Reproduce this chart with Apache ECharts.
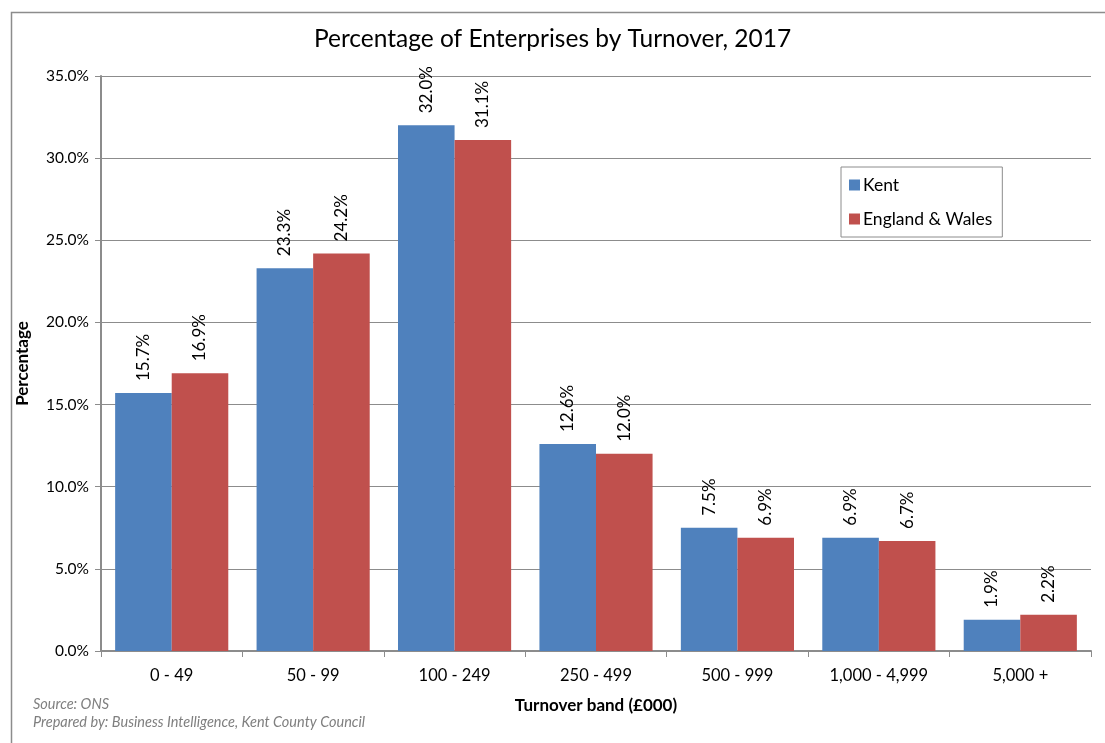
<!DOCTYPE html>
<html>
<head>
<meta charset="utf-8">
<script src="https://cdn.jsdelivr.net/npm/echarts@6/dist/echarts.min.js"></script>
<style>
  html, body { margin: 0; padding: 0; background: #fff; }
  #chart { width: 1105px; height: 743px; }
</style>
</head>
<body>
<div id="chart"></div>
<script>
  // turnover bands (£000)
  var bands = ['0 - 49', '50 - 99', '100 - 249', '250 - 499', '500 - 999', '1,000 - 4,999', '5,000 +']
  var kent = [15.7, 23.3, 32.0, 12.6, 7.5, 6.9, 1.9]
  var englandWales = [16.9, 24.2, 31.1, 12.0, 6.9, 6.7, 2.2]
  var yTicks = [0, 5, 10, 15, 20, 25, 30, 35]

  var font = 'Lato, "Open Sans", sans-serif'

  var chart = echarts.init(document.getElementById('chart'))

  var barLabel = {
    show: true,
    position: 'top',
    rotate: 90,
    align: 'left',
    verticalAlign: 'middle',
    distance: 12,
    color: '#000',
    fontFamily: font,
    fontSize: 17,
    formatter: function (p) { return p.value.toFixed(1) + '%' }
  }

  var option = {
    backgroundColor: '#fff',
    animation: false,
    title: {
      text: 'Percentage of Enterprises by Turnover, 2017',
      left: 'center',
      top: 22,
      textStyle: { fontFamily: font, fontSize: 24.5, fontWeight: 'normal', color: '#000' }
    },
    legend: {
      orient: 'vertical',
      left: 841,
      top: 167,
      padding: [9, 10, 9, 8],
      itemGap: 16,
      itemWidth: 11,
      itemHeight: 11,
      borderColor: '#8c8c8c',
      borderWidth: 1,
      icon: 'rect',
      textStyle: { fontFamily: font, fontSize: 17.5, color: '#000', padding: [0, 0, 0, -2] },
      data: ['Kent', 'England & Wales']
    },
    grid: { left: 101, right: 14, top: 76, bottom: 92 },
    xAxis: {
      type: 'category',
      data: bands,
      name: 'Turnover band (£000)',
      nameLocation: 'middle',
      nameGap: 46,
      nameTextStyle: { fontFamily: font, fontSize: 17, fontWeight: 'bold', color: '#000' },
      axisLine: { lineStyle: { color: '#8c8c8c', width: 2 } },
      axisTick: { show: true, length: 6, lineStyle: { color: '#8c8c8c' } },
      axisLabel: { fontFamily: font, fontSize: 16.5, color: '#000', margin: 16 }
    },
    yAxis: {
      type: 'value',
      min: yTicks[0],
      max: yTicks[yTicks.length - 1],
      interval: 5,
      name: 'Percentage',
      nameLocation: 'middle',
      nameRotate: 90,
      nameGap: 70,
      nameTextStyle: { fontFamily: font, fontSize: 17, fontWeight: 'bold', color: '#000' },
      axisLine: { show: true, lineStyle: { color: '#8c8c8c', width: 2 } },
      axisTick: { show: true, length: 6, lineStyle: { color: '#8c8c8c' } },
      splitLine: { lineStyle: { color: '#8c8c8c', width: 1 } },
      axisLabel: {
        fontFamily: font, fontSize: 15.5, color: '#000', margin: 12,
        formatter: function (v) { return v.toFixed(1) + '%' }
      }
    },
    graphic: [
      {
        type: 'rect', left: 9, top: 10, silent: true,
        shape: { width: 1110, height: 760 },
        style: { fill: 'none', stroke: '#8c8c8c', lineWidth: 1.5 }
      },
      {
        type: 'text', left: 33, top: 697,
        style: { text: 'Source: ONS', fontFamily: font, fontSize: 14.5, fontStyle: 'italic', fill: '#7f7f7f' }
      },
      {
        type: 'text', left: 33, top: 715,
        style: { text: 'Prepared by: Business Intelligence, Kent County Council', fontFamily: font, fontSize: 14.5, fontStyle: 'italic', fill: '#7f7f7f' }
      }
    ],
    series: [
      {
        name: 'Kent',
        type: 'bar',
        data: kent,
        barGap: '0%',
        barCategoryGap: '20%',
        itemStyle: { color: '#4F81BD' },
        label: barLabel
      },
      {
        name: 'England & Wales',
        type: 'bar',
        data: englandWales,
        itemStyle: { color: '#C0504D' },
        label: barLabel
      }
    ]
  }

  chart.setOption(option)
</script>
</body>
</html>
